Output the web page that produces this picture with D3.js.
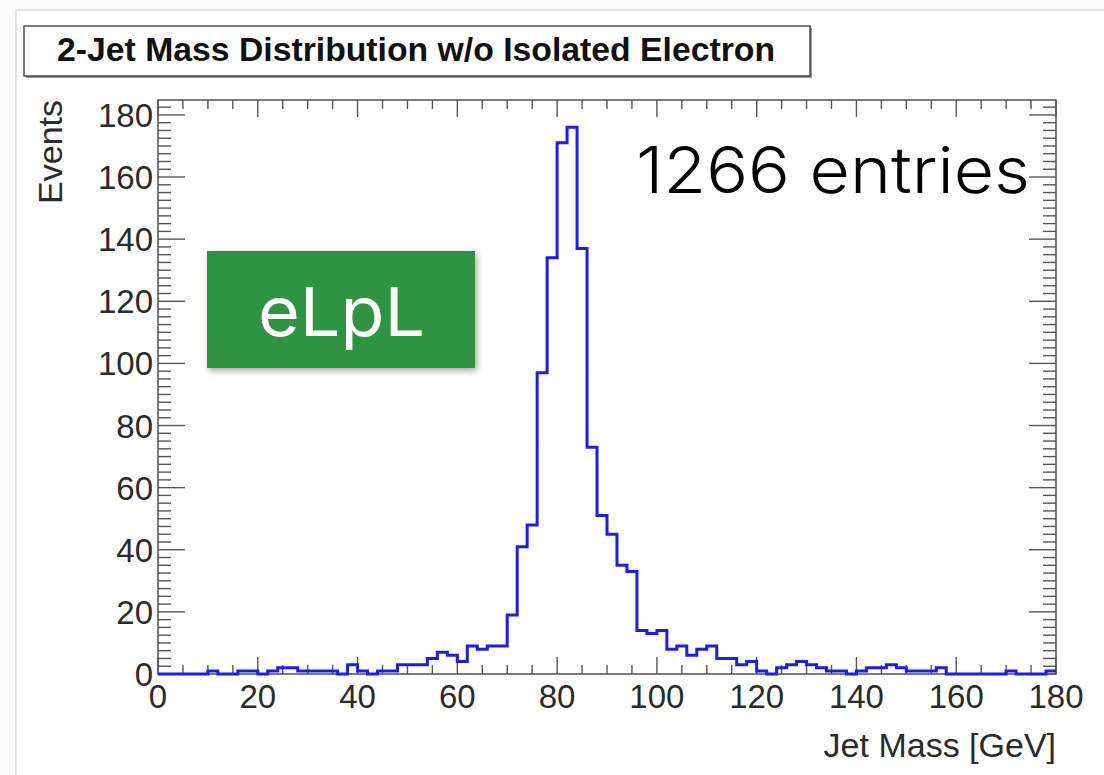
<!DOCTYPE html>
<html><head><meta charset="utf-8">
<script src="https://cdn.jsdelivr.net/npm/d3@7"></script>
<style>
html,body{margin:0;padding:0;background:#fff;}
svg{display:block;}
</style></head>
<body>
<svg id="c" width="1104" height="775"></svg>
<script>
// ---- data ----
const titleText = "2-Jet Mass Distribution w/o Isolated Electron";
const xTitle = "Jet Mass [GeV]";
const yTitle = "Events";
const entriesText = "1266 entries";
const tagText = "eLpL";
const xMin = 0, xMax = 180, binWidth = 2;
const xTickLabels = [0, 20, 40, 60, 80, 100, 120, 140, 160, 180];
const yTickLabels = [0, 20, 40, 60, 80, 100, 120, 140, 160, 180];
// counts per 2 GeV bin, 0..180
const counts = [
  0,0,0,0,0, 1,0,0,1,1,            // 0-20
  0,1,2,2,1, 1,1,1,0,3,            // 20-40
  1,0,1,1,3, 3,3,5,7,6,            // 40-60
  4,9,8,9,9, 19,41,48,97,134,      // 60-80
  171,176,137,73,51, 45,35,33,14,13, // 80-100
  14,8,9,6,8, 9,5,5,3,4,           // 100-120
  1,0,2,3,4, 3,2,1,1,0,            // 120-140
  1,2,2,3,2, 1,1,1,2,0,            // 140-160
  0,0,0,0,0, 1,0,0,0,1             // 160-180
];

// ---- layout ----
const svg = d3.select("#c");
const L = 158, R = 1056, T = 100, B = 674;
const x = d3.scaleLinear().domain([xMin, xMax]).range([L, R]);
const yMax = d3.max(counts) * 1.05;
const y = d3.scaleLinear().domain([0, yMax]).range([B, T]);

const defs = svg.append("defs");
const f = defs.append("filter").attr("id","sh").attr("x","-10%").attr("y","-10%").attr("width","130%").attr("height","140%");
f.append("feDropShadow").attr("dx",2).attr("dy",3).attr("stdDeviation",3).attr("flood-color","#000").attr("flood-opacity",0.35);

// outer canvas border
svg.append("rect").attr("x",0).attr("y",0).attr("width",1104).attr("height",775).attr("fill","#fafafa");
svg.append("rect").attr("x",16).attr("y",10).attr("width",1100).attr("height",770)
  .attr("fill","#fff").attr("stroke","#dcdcdc").attr("stroke-width",1.5);

// title box
svg.append("rect").attr("x",26).attr("y",28).attr("width",786).attr("height",50).attr("fill","#999");
svg.append("rect").attr("x",24).attr("y",26).attr("width",786).attr("height",50)
  .attr("fill","#fff").attr("stroke","#333").attr("stroke-width",1.3);
svg.append("text").attr("x",416).attr("y",61).attr("text-anchor","middle")
  .attr("font-family","'Liberation Sans Narrow','Arial Narrow','Liberation Sans',sans-serif")
  .attr("font-weight","bold").attr("font-size",33)
  .attr("textLength",718).attr("lengthAdjust","spacingAndGlyphs")
  .attr("fill","#111").text(titleText);

// frame
const g = svg.append("g");
g.append("rect").attr("x",L).attr("y",T).attr("width",R-L).attr("height",B-T)
  .attr("fill","#fff").attr("stroke","#444").attr("stroke-width",1.4);

// ticks
const xMajor = d3.range(xMin, xMax + 0.01, 20);
const xMinor = d3.range(xMin, xMax + 0.01, 5).filter(v => v % 20 !== 0);
const yMajor = d3.range(0, 180.01, 20);
const yMinor = d3.range(0, yMax, 2.5).filter(v => v % 20 !== 0);
const tk = g.append("g").attr("stroke","#555").attr("stroke-width",1.4);
xMajor.forEach(v => {
  tk.append("line").attr("x1",x(v)).attr("x2",x(v)).attr("y1",B).attr("y2",B-17);
  tk.append("line").attr("x1",x(v)).attr("x2",x(v)).attr("y1",T).attr("y2",T+17);
});
xMinor.forEach(v => {
  tk.append("line").attr("x1",x(v)).attr("x2",x(v)).attr("y1",B).attr("y2",B-9);
  tk.append("line").attr("x1",x(v)).attr("x2",x(v)).attr("y1",T).attr("y2",T+9);
});
yMajor.forEach(v => {
  tk.append("line").attr("x1",L).attr("x2",L+27).attr("y1",y(v)).attr("y2",y(v));
  tk.append("line").attr("x1",R).attr("x2",R-27).attr("y1",y(v)).attr("y2",y(v));
});
yMinor.forEach(v => {
  tk.append("line").attr("x1",L).attr("x2",L+13).attr("y1",y(v)).attr("y2",y(v));
  tk.append("line").attr("x1",R).attr("x2",R-13).attr("y1",y(v)).attr("y2",y(v));
});

// tick labels
const lf = "'Liberation Sans',Arial,Helvetica,sans-serif";
g.append("g").selectAll("text").data(xTickLabels).join("text")
  .attr("x", d => x(d)).attr("y", 708).attr("text-anchor","middle")
  .attr("font-family",lf).attr("font-size",33).attr("fill","#2a2a2a").text(d => d);
g.append("g").selectAll("text").data(yTickLabels).join("text")
  .attr("x", 153).attr("y", d => y(d) + 12).attr("text-anchor","end")
  .attr("font-family",lf).attr("font-size",33).attr("fill","#2a2a2a").text(d => d);

// axis titles
g.append("text").attr("x",1056).attr("y",757).attr("text-anchor","end")
  .attr("font-family",lf).attr("font-size",34).attr("fill","#2a2a2a").text(xTitle);
g.append("text").attr("transform","translate(62,100) rotate(-90)").attr("text-anchor","end")
  .attr("font-family",lf).attr("font-size",34).attr("fill","#2a2a2a").text(yTitle);

// histogram
const pts = [];
counts.forEach((c,i) => {
  const lo = xMin + i*binWidth, hi = lo + binWidth;
  pts.push([lo, c]); pts.push([hi, c]);
});
const line = d3.line().x(d => x(d[0])).y(d => y(d[1]));
g.append("path").attr("d", line(pts)).attr("fill","none")
  .attr("stroke","#1c1cf0").attr("stroke-width",3).attr("stroke-linejoin","miter");

// entries text
svg.append("text").attr("x",636).attr("y",193)
  .attr("font-family","Inter,'Noto Sans',sans-serif").attr("font-size",64).attr("font-weight",300)
  .attr("textLength",394).attr("lengthAdjust","spacingAndGlyphs")
  .attr("fill","#000").text(entriesText);

// tag
svg.append("rect").attr("x",207).attr("y",251).attr("width",268).attr("height",117)
  .attr("fill","#2f9443").attr("filter","url(#sh)");
svg.append("text").attr("x",341.5).attr("y",336).attr("text-anchor","middle")
  .attr("font-family","Inter,'Noto Sans',sans-serif").attr("font-size",68).attr("font-weight",400)
  .attr("textLength",167).attr("lengthAdjust","spacingAndGlyphs")
  .attr("fill","#fff").text(tagText);
</script>
</body></html>
